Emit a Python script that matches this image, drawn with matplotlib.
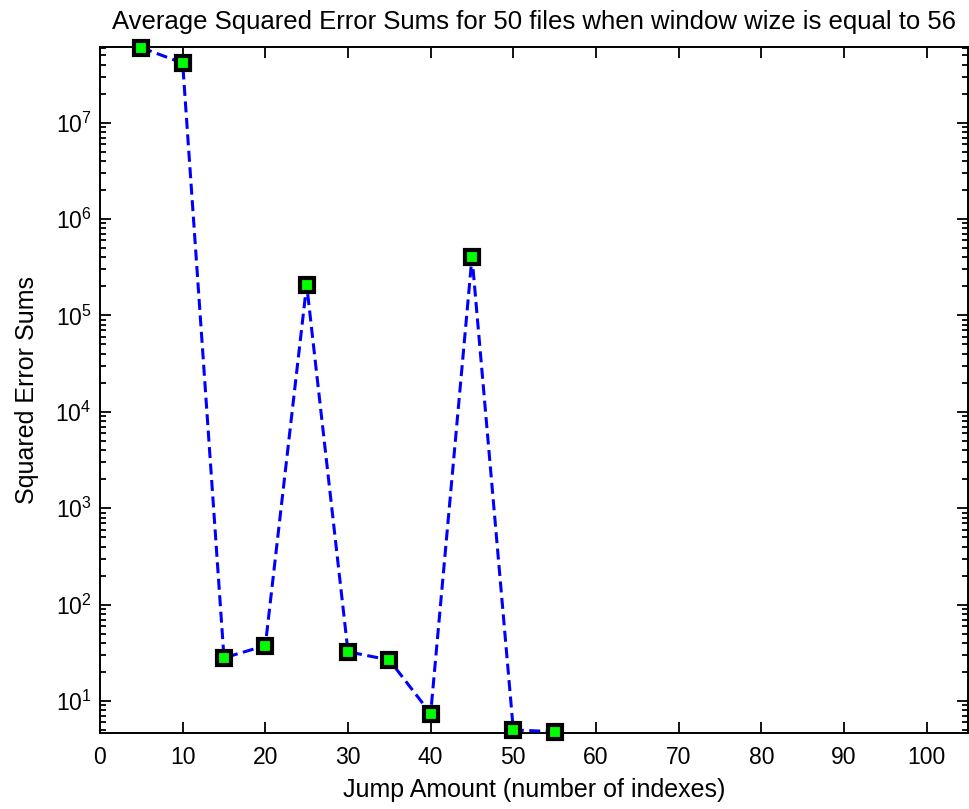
import matplotlib
matplotlib.use("Agg")
import matplotlib.pyplot as plt
from matplotlib.ticker import FixedLocator, NullFormatter, LogFormatterSciNotation

plt.rcParams['font.family'] = ['Liberation Sans', 'DejaVu Sans']
plt.rcParams['mathtext.fontset'] = 'custom'
plt.rcParams['mathtext.rm'] = 'Liberation Sans'
plt.rcParams['mathtext.it'] = 'Liberation Sans:italic'

# Jump amount vs. averaged squared error sums
jump_amounts = [5, 10, 15, 20, 25, 30, 35, 40, 45, 50, 55]
error_sums = [6.0e7, 4.15e7, 28.0, 37.5, 2.08e5, 32.4, 26.6, 7.4, 4.05e5, 5.0, 4.8]
x_ticks = [0, 10, 20, 30, 40, 50, 60, 70, 80, 90, 100]
y_exponents = [1, 2, 3, 4, 5, 6, 7]

y_lo, y_hi = 4.65, 6.1e7

fig = plt.figure(figsize=(9.70, 8.09), dpi=100)
ax = fig.add_axes([100 / 970, 76 / 809, 868 / 970, 686 / 809])

ax.plot(jump_amounts, error_sums, linestyle='--', color='#0000ff', linewidth=2.2,
        dashes=(3.6, 1.8), marker='s', markersize=9.5, markerfacecolor='#00ff00',
        markeredgecolor='black', markeredgewidth=3.0, clip_on=False, zorder=3)

ax.set_yscale('log')
ax.set_xlim(0, 105)
ax.set_ylim(y_lo, y_hi)
ax.xaxis.set_major_locator(FixedLocator(x_ticks))

# log ticks restricted to the visible range
major_y = [10.0 ** e for e in y_exponents]
minor_y = [m * 10.0 ** e for e in range(0, 8) for m in range(2, 10)
           if y_lo <= m * 10.0 ** e <= y_hi]
ax.yaxis.set_major_locator(FixedLocator(major_y))
ax.yaxis.set_major_formatter(LogFormatterSciNotation())
ax.yaxis.set_minor_locator(FixedLocator(minor_y))
ax.yaxis.set_minor_formatter(NullFormatter())

ax.tick_params(which='both', direction='in', top=True, right=True,
               labelsize=16.5, width=1.3, colors='black')
ax.tick_params(which='major', length=8)
ax.tick_params(axis='x', which='major', pad=9)
ax.tick_params(axis='y', which='major', pad=6)
ax.tick_params(which='minor', length=4)
for s in ax.spines.values():
    s.set_linewidth(1.4)

ax.set_title('Average Squared Error Sums for 50 files when window wize is equal to 56',
             fontsize=18.5, pad=13)
ax.set_xlabel('Jump Amount (number of indexes)', fontsize=18, labelpad=7)
ax.set_ylabel('Squared Error Sums', fontsize=18, labelpad=12)

fig.savefig('out.png', dpi=100)
